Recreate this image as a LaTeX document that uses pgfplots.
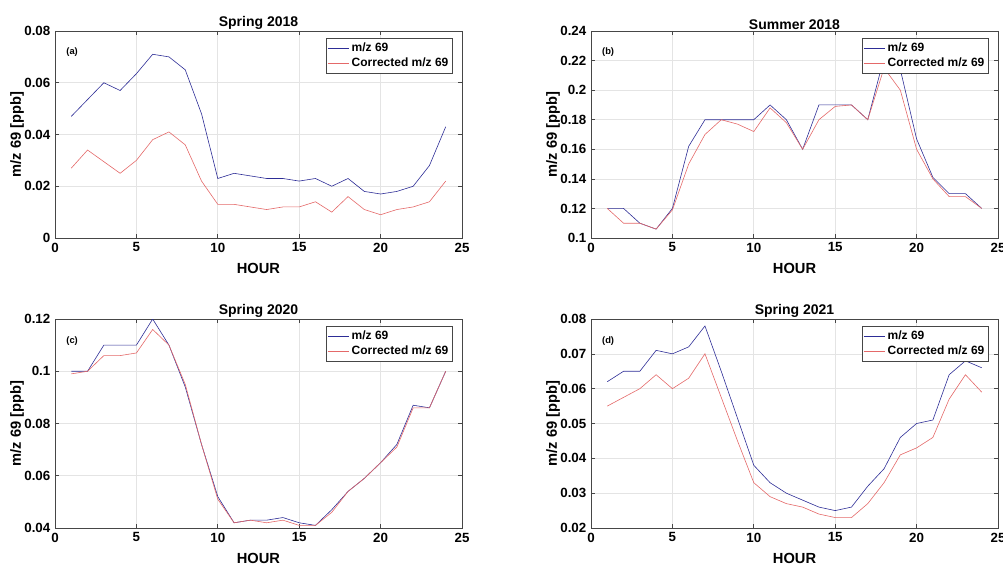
\documentclass[border=0pt]{standalone}
\usepackage{fontspec}
\setmainfont{Liberation Sans}
\usepackage{pgfplots}
\pgfplotsset{compat=1.18}
\definecolor{mblue}{RGB}{45,45,150}
\definecolor{mred}{RGB}{228,105,105}
\definecolor{gridc}{RGB}{228,228,228}
\definecolor{axc}{RGB}{70,70,70}
\pgfplotsset{
  panel/.style={
    scale only axis,
    width=305.25pt,
    anchor=south west,
    xmin=0, xmax=25,
    xtick={0,5,10,15,20,25},
    grid=major,
    major grid style={gridc, line width=0.5pt},
    axis line style={axc, line width=0.6pt},
    tick style={axc, line width=0.5pt},
    tick align=inside,
    major tick length=3pt,
    /pgf/number format/assume math mode=true,
    ticklabel style={font=\fontsize{10}{12}\selectfont\bfseries},
    scaled y ticks=false,
    yticklabel style={/pgf/number format/fixed, /pgf/number format/precision=2},
    xlabel={HOUR},
    ylabel={m/z 69 [ppb]},
    xlabel style={font=\fontsize{11}{13}\selectfont\bfseries, yshift=-1.5pt},
    ylabel style={font=\fontsize{11}{13}\selectfont\bfseries, yshift=-6.5pt},
    title style={font=\fontsize{10.5}{12}\selectfont\bfseries, yshift=-8.5pt},
    legend cell align=left,
    legend style={at={(1,1)}, anchor=north east, xshift=-6.75pt, yshift=-5.25pt,
      draw=axc, line width=0.5pt, fill=white, font=\fontsize{9}{10.5}\selectfont\bfseries,
      inner sep=1.2pt, row sep=-0.5pt},
    legend image code/.code={\draw[##1] (0cm,0cm) -- (0.55cm,0cm);},
  },
  bl/.style={mblue, line width=0.45pt},
  rd/.style={mred, line width=0.45pt},
}
\begin{document}
\begin{tikzpicture}
\path[use as bounding box] (0,0) rectangle (752.25pt,423.75pt);
% (a)
\begin{axis}[panel, at={(41.25pt,245.25pt)}, height=155.25pt,
  ymin=0, ymax=0.08, ytick={0,0.02,0.04,0.06,0.08}, title={Spring 2018}]
\addplot[bl] coordinates {(1,0.047)(2,0.0535)(3,0.060)(4,0.057)(5,0.0635)(6,0.071)(7,0.070)(8,0.065)(9,0.048)(10,0.023)(11,0.025)(12,0.024)(13,0.023)(14,0.023)(15,0.022)(16,0.023)(17,0.020)(18,0.023)(19,0.018)(20,0.017)(21,0.018)(22,0.020)(23,0.028)(24,0.043)};
\addplot[rd] coordinates {(1,0.027)(2,0.034)(3,0.0295)(4,0.025)(5,0.030)(6,0.038)(7,0.041)(8,0.036)(9,0.022)(10,0.013)(11,0.013)(12,0.012)(13,0.011)(14,0.012)(15,0.012)(16,0.014)(17,0.010)(18,0.016)(19,0.011)(20,0.009)(21,0.011)(22,0.012)(23,0.014)(24,0.022)};
\legend{m/z 69, Corrected m/z 69}
\node[font=\fontsize{7}{8}\selectfont\bfseries] at (rel axis cs:0.042,0.9) {(a)};
\end{axis}
% (b)
\begin{axis}[panel, at={(443.25pt,245.25pt)}, height=155.25pt,
  ymin=0.1, ymax=0.24, ytick={0.1,0.12,0.14,0.16,0.18,0.2,0.22,0.24}, title={Summer 2018}]
\addplot[bl] coordinates {(1,0.12)(2,0.12)(3,0.11)(4,0.106)(5,0.12)(6,0.162)(7,0.18)(8,0.18)(9,0.18)(10,0.18)(11,0.19)(12,0.18)(13,0.16)(14,0.19)(15,0.19)(16,0.19)(17,0.18)(18,0.222)(19,0.214)(20,0.167)(21,0.141)(22,0.13)(23,0.13)(24,0.12)};
\addplot[rd] coordinates {(1,0.12)(2,0.11)(3,0.11)(4,0.106)(5,0.119)(6,0.15)(7,0.17)(8,0.18)(9,0.177)(10,0.172)(11,0.188)(12,0.178)(13,0.16)(14,0.18)(15,0.189)(16,0.19)(17,0.18)(18,0.215)(19,0.20)(20,0.16)(21,0.14)(22,0.128)(23,0.128)(24,0.12)};
\legend{m/z 69, Corrected m/z 69}
\node[font=\fontsize{7}{8}\selectfont\bfseries] at (rel axis cs:0.042,0.9) {(b)};
\end{axis}
% (c)
\begin{axis}[panel, at={(41.25pt,27.75pt)}, height=156.75pt,
  ymin=0.04, ymax=0.12, ytick={0.04,0.06,0.08,0.1,0.12}, title={Spring 2020}]
\addplot[bl] coordinates {(1,0.100)(2,0.100)(3,0.110)(4,0.110)(5,0.110)(6,0.120)(7,0.110)(8,0.094)(9,0.072)(10,0.052)(11,0.042)(12,0.043)(13,0.043)(14,0.044)(15,0.042)(16,0.041)(17,0.047)(18,0.054)(19,0.059)(20,0.065)(21,0.072)(22,0.087)(23,0.086)(24,0.100)};
\addplot[rd] coordinates {(1,0.099)(2,0.100)(3,0.106)(4,0.106)(5,0.107)(6,0.116)(7,0.110)(8,0.095)(9,0.072)(10,0.051)(11,0.042)(12,0.043)(13,0.042)(14,0.043)(15,0.041)(16,0.041)(17,0.046)(18,0.054)(19,0.059)(20,0.065)(21,0.071)(22,0.086)(23,0.086)(24,0.100)};
\legend{m/z 69, Corrected m/z 69}
\node[font=\fontsize{7}{8}\selectfont\bfseries] at (rel axis cs:0.042,0.895) {(c)};
\end{axis}
% (d)
\begin{axis}[panel, at={(443.25pt,27.75pt)}, height=156.75pt,
  ymin=0.02, ymax=0.08, ytick={0.02,0.03,0.04,0.05,0.06,0.07,0.08}, title={Spring 2021}]
\addplot[bl] coordinates {(1,0.062)(2,0.065)(3,0.065)(4,0.071)(5,0.070)(6,0.072)(7,0.078)(8,0.065)(9,0.0515)(10,0.038)(11,0.033)(12,0.030)(13,0.028)(14,0.026)(15,0.025)(16,0.026)(17,0.032)(18,0.037)(19,0.046)(20,0.050)(21,0.051)(22,0.064)(23,0.068)(24,0.066)};
\addplot[rd] coordinates {(1,0.055)(2,0.0575)(3,0.060)(4,0.064)(5,0.060)(6,0.063)(7,0.070)(8,0.0575)(9,0.045)(10,0.033)(11,0.029)(12,0.027)(13,0.026)(14,0.024)(15,0.023)(16,0.023)(17,0.027)(18,0.033)(19,0.041)(20,0.043)(21,0.046)(22,0.057)(23,0.064)(24,0.059)};
\legend{m/z 69, Corrected m/z 69}
\node[font=\fontsize{7}{8}\selectfont\bfseries] at (rel axis cs:0.042,0.895) {(d)};
\end{axis}
\end{tikzpicture}
\end{document}
